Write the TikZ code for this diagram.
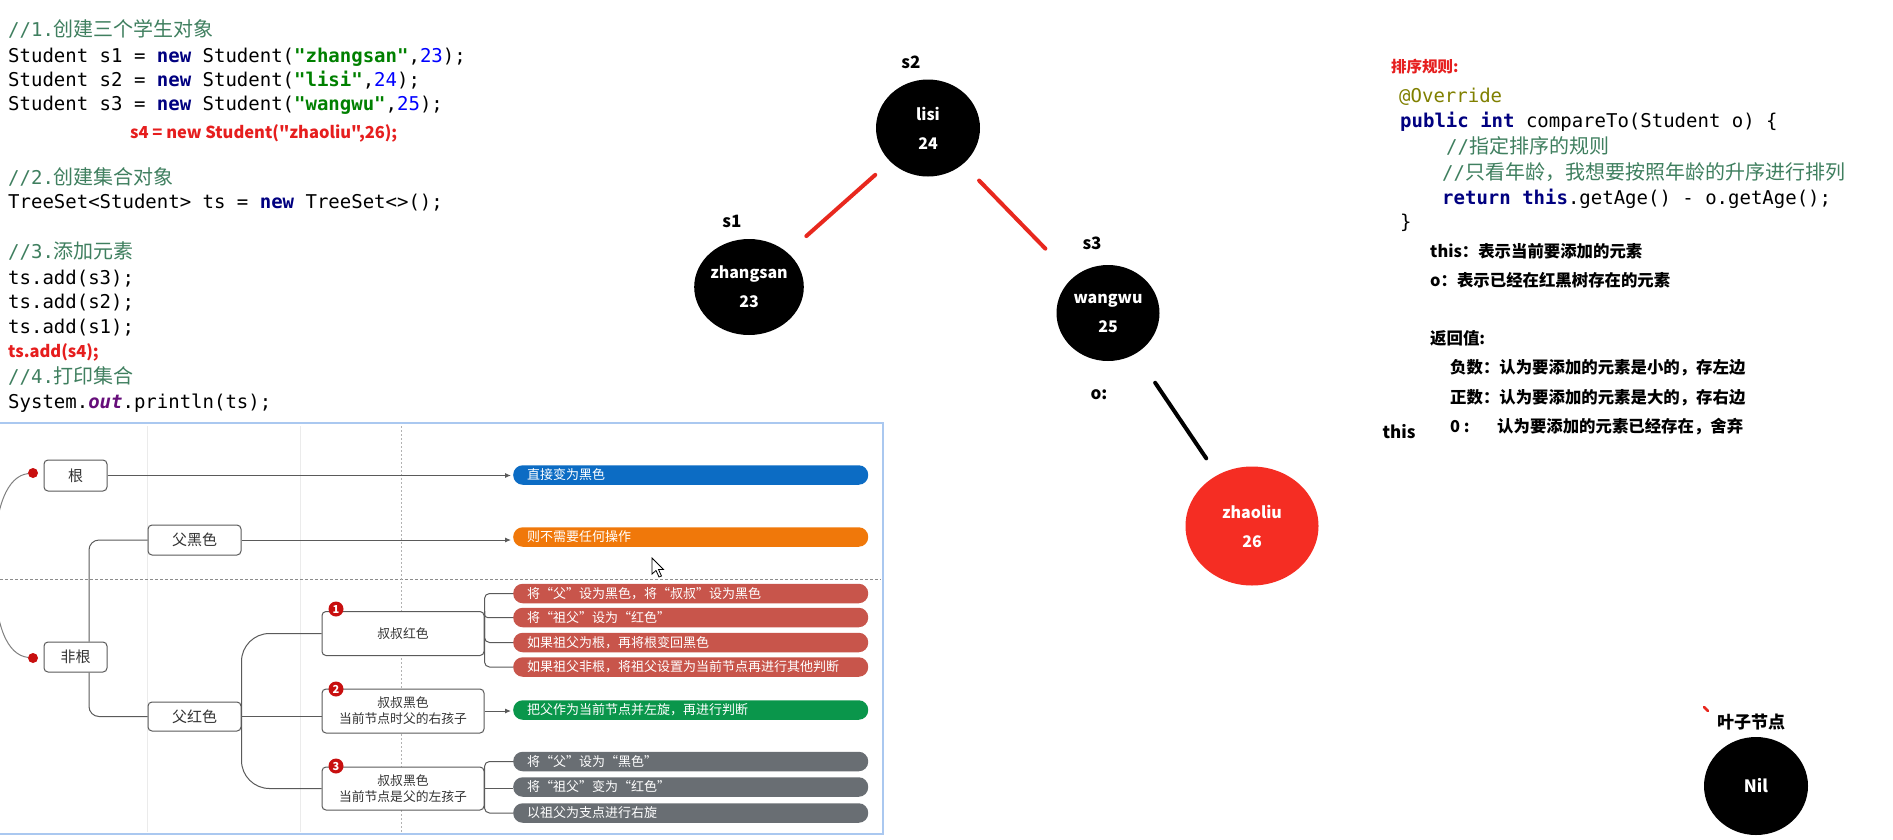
\documentclass[tikz,border=0pt]{standalone}
\usepackage{fontspec}
\setmainfont{Noto Sans CJK SC}
\newfontfamily\cjk{Noto Sans CJK SC}
\setmonofont{DejaVu Sans Mono}
\usetikzlibrary{shapes.geometric,arrows.meta}
\definecolor{cmt}{RGB}{63,127,95}
\definecolor{kwc}{RGB}{0,0,128}
\definecolor{strc}{RGB}{0,128,0}
\definecolor{numc}{RGB}{0,0,255}
\definecolor{outc}{RGB}{102,14,122}
\definecolor{annc}{RGB}{128,128,0}
\definecolor{redtxt}{RGB}{230,30,30}
\definecolor{treered}{RGB}{232,40,30}
\definecolor{zred}{RGB}{245,45,35}
\definecolor{blueb}{RGB}{12,108,196}
\definecolor{orangeb}{RGB}{240,120,10}
\definecolor{redb}{RGB}{200,85,75}
\definecolor{greenb}{RGB}{10,150,75}
\definecolor{grayb}{RGB}{105,110,115}
\definecolor{panelc}{RGB}{170,200,240}
\definecolor{linec}{RGB}{90,90,90}
\definecolor{dotred}{RGB}{200,15,15}
\newcommand\codefont{\ttfamily\fontsize{19}{19}\selectfont}
\newcommand\cjkc{\cjk\fontsize{20}{20}\selectfont}
\newcommand\ckw[1]{\textcolor{kwc}{\bfseries #1}}
\newcommand\cstr[1]{\textcolor{strc}{\bfseries #1}}
\newcommand\cnum[1]{\textcolor{numc}{#1}}
\begin{document}
\begin{tikzpicture}[x=1pt,y=-1pt,
  code/.style={anchor=base west, inner sep=0pt, font=\codefont},
  redcode/.style={anchor=base west, inner sep=0pt, text=redtxt, font=\cjk\bfseries\fontsize{16.5}{16.5}\selectfont},
  note/.style={anchor=base west, inner sep=0pt, font=\bfseries\fontsize{16.4}{16.4}\selectfont},
  tlabel/.style={inner sep=0pt, font=\bfseries\fontsize{17}{17}\selectfont},
  tnode/.style={ellipse, fill=black, text=white, inner sep=0pt, align=center, font=\bfseries\fontsize{16}{29}\selectfont},
  redline/.style={treered, line width=4pt, line cap=round},
  blackline/.style={black, line width=4pt, line cap=round},
  mmbox/.style={draw=linec, rounded corners=4pt, fill=white, line width=1pt, align=center, inner sep=0pt, text=black!80},
  mmbar/.style={rounded corners=9.5pt, text=white, font=\fontsize{13}{13}\selectfont, minimum height=19.5pt, text width=327pt, inner xsep=14pt, inner ysep=0pt, anchor=west, align=left},
  conn/.style={linec, line width=1pt},
  arr/.style={linec, line width=1pt, -{Latex[length=6pt,width=5pt]}, shorten >=2pt},
  numdot/.style={circle, fill=dotred, text=white, minimum size=15pt, inner sep=0pt, font=\bfseries\fontsize{11}{11}\selectfont},
  reddot/.style={circle, fill=dotred, minimum size=10pt, inner sep=0pt}
]
\useasboundingbox (0,0) rectangle (1893,839);
\fill[white] (0,0) rectangle (1893,839);

% ---------------- left code ----------------
\node[code] (c1) at (8,36) {\textcolor{cmt}{//1.{\cjkc 创建三个学生对象}}};
\node[code] (c2) at (8,62) {Student s1 = \ckw{new} Student(\cstr{"zhangsan"},\cnum{23});};
\node[code] (c3) at (8,86) {Student s2 = \ckw{new} Student(\cstr{"lisi"},\cnum{24});};
\node[code] (c4) at (8,110) {Student s3 = \ckw{new} Student(\cstr{"wangwu"},\cnum{25});};
\node[redcode] (c5) at (130,138) {s4 = new Student("zhaoliu",26);};
\node[code] (c6) at (8,184) {\textcolor{cmt}{//2.{\cjkc 创建集合对象}}};
\node[code] (c7) at (8,208) {TreeSet<Student> ts = \ckw{new} TreeSet<>();};
\node[code] (c8) at (8,258) {\textcolor{cmt}{//3.{\cjkc 添加元素}}};
\node[code] (c9) at (8,284) {ts.add(s3);};
\node[code] (c10) at (8,308) {ts.add(s2);};
\node[code] (c11) at (8,333) {ts.add(s1);};
\node[redcode] (c12) at (8,357) {ts.add(s4);};
\node[code] (c13) at (8,383) {\textcolor{cmt}{//4.{\cjkc 打印集合}}};
\node[code] (c14) at (8,408) {System.\textcolor{outc}{\bfseries\itshape out}.println(ts);};

% ---------------- tree ----------------
\node[tlabel] (ls2) at (911,62) {s2};
\node[tlabel] (ls1) at (732,221) {s1};
\node[tlabel] (ls3) at (1092,243) {s3};
\node[tlabel] (lo) at (1099,395) {o:};
\node[tlabel] (lthis) at (1399,432) {this};
\node[tnode, minimum width=104pt, minimum height=97pt] (lisi) at (928,128) {lisi\\24};
\node[tnode, minimum width=104pt, minimum height=96pt] (zhang) at (749,287) {zhangsan\\23};
\node[tnode, minimum width=103pt, minimum height=96pt] (wang) at (1108,313) {wangwu\\25};
\node[tnode, fill=zred, minimum width=133pt, minimum height=119pt] (zhao) at (1252,526) {zhaoliu\\26};
\draw[redline, shorten <=20pt, shorten >=25pt] (lisi) -- (zhang);
\draw[redline, shorten <=23pt, shorten >=40pt] (lisi) -- (wang);
\draw[blackline, shorten <=35pt, shorten >=20pt] (wang) -- (zhao);

% leaf
\node[tlabel] (leaf) at (1751,722) {叶子节点};
\node[tnode, minimum width=104pt, minimum height=98pt, font=\bfseries\fontsize{17}{17}\selectfont] (nil) at (1756,786) {Nil};
\draw[treered, line width=2.5pt, line cap=round] (1704,707) -- (1708,711);

% ---------------- right code ----------------
\node[redcode, font=\cjk\bfseries\fontsize{15.5}{15.5}\selectfont] (r0) at (1391,72) {排序规则:};
\node[code] (r1) at (1399,102) {\textcolor{annc}{@Override}};
\node[code] (r2) at (1400,127) {\ckw{public} \ckw{int} compareTo(Student o) \{};
\node[code] (r3) at (1446,153) {\textcolor{cmt}{//{\cjkc 指定排序的规则}}};
\node[code] (r4) at (1442,179) {\textcolor{cmt}{//{\cjkc 只看年龄，我想要按照年龄的升序进行排列}}};
\node[code] (r5) at (1442,204) {\ckw{return} \ckw{this}.getAge() - o.getAge();};
\node[code] (r6) at (1400,228) {\}};
\node[note] (r7) at (1430,257) {this：表示当前要添加的元素};
\node[note] (r8) at (1430,286) {o：表示已经在红黑树存在的元素};
\node[note] (r9) at (1430,344) {返回值:};
\node[note] (r10) at (1450,373) {负数：认为要添加的元素是小的，存左边};
\node[note] (r11) at (1450,403) {正数：认为要添加的元素是大的，存右边};
\node[note] (r12) at (1450,432) {0 :};
\node[note] (r13) at (1497,432) {认为要添加的元素已经存在，舍弃};

% ---------------- mind map ----------------
\draw[black!8, line width=1pt] (147,426) -- (147,832);
\draw[black!8, line width=1pt] (300,426) -- (300,832);
\draw[black!45, dashed, dash pattern=on 3pt off 2pt, line width=0.8pt] (0,579) -- (881,579);
\draw[black!30, dash pattern=on 2pt off 2pt, line width=1pt] (401,426) -- (401,832);
\draw[panelc, line width=2pt] (-3,423) rectangle (883,834);

\node[mmbox, minimum width=63pt, minimum height=31pt, font=\fontsize{15}{15}\selectfont] (gen) at (75.5,475.5) {根};
\node[mmbox, minimum width=63pt, minimum height=30pt, font=\fontsize{15}{15}\selectfont] (feigen) at (75.5,657) {非根};
\node[mmbox, minimum width=93pt, minimum height=30pt, font=\fontsize{15}{15}\selectfont] (fuhei) at (194.5,540) {父黑色};
\node[mmbox, minimum width=93pt, minimum height=29pt, font=\fontsize{15}{15}\selectfont] (fuhong) at (194.5,716.5) {父红色};
\node[mmbox, minimum width=162pt, minimum height=44pt, font=\fontsize{12.8}{16}\selectfont] (case1) at (403,633.5) {叔叔红色};
\node[mmbox, minimum width=162pt, minimum height=44pt, font=\fontsize{12.8}{16}\selectfont] (case2) at (403,711) {叔叔黑色\\当前节点时父的右孩子};
\node[mmbox, minimum width=162pt, minimum height=43pt, font=\fontsize{12.8}{16}\selectfont] (case3) at (403,788.5) {叔叔黑色\\当前节点是父的左孩子};

\node[reddot] (d1) at (33,473) {};
\node[reddot] (d2) at (33,658) {};
\node[numdot] (n1) at (336,609) {1};
\node[numdot] (n2) at (336,689) {2};
\node[numdot] (n3) at (336,766) {3};

\node[mmbar, fill=blueb] (b0) at (513,475) {直接变为黑色};
\node[mmbar, fill=orangeb] (b1) at (513,537) {则不需要任何操作};
\node[mmbar, fill=redb] (rb1) at (513,593.5) {将“父”设为黑色，将“叔叔”设为黑色};
\node[mmbar, fill=redb] (rb2) at (513,617.5) {将“祖父”设为“红色”};
\node[mmbar, fill=redb] (rb3) at (513,642.5) {如果祖父为根，再将根变回黑色};
\node[mmbar, fill=redb] (rb4) at (513,667) {如果祖父非根，将祖父设置为当前节点再进行其他判断};
\node[mmbar, fill=greenb] (gb) at (513,710) {把父作为当前节点并左旋，再进行判断};
\node[mmbar, fill=grayb] (kb1) at (513,761.5) {将“父”设为“黑色”};
\node[mmbar, fill=grayb] (kb2) at (513,787) {将“祖父”变为“红色”};
\node[mmbar, fill=grayb] (kb3) at (513,813) {以祖父为支点进行右旋};

\draw[black!50, line width=1pt] (d1) .. controls (8,476) and (-6,505) .. (-6,565) .. controls (-6,628) and (8,655) .. (d2);
\draw[conn, rounded corners=10pt] ([xshift=13.5pt]feigen.north) |- (fuhei.west);
\draw[conn, rounded corners=10pt] ([xshift=13.5pt]feigen.south) |- (fuhong.west);
\draw[arr] (gen.east) -- (gen.east -| b0.west);
\draw[arr] (fuhei.east) -- (fuhei.east -| b1.west);
\draw[conn, rounded corners=28pt] (fuhong.east) |- (case1.west);
\draw[conn] (fuhong.east) -- (fuhong.east -| case2.west);
\draw[conn, rounded corners=28pt] (fuhong.east) |- (case3.west);
\draw[conn, rounded corners=5pt] (case1.north east) |- (rb1.west);
\draw[conn, rounded corners=3pt] (case1.north east) |- (rb2.west);
\draw[conn, rounded corners=5pt] (case1.north east) |- (rb3.west);
\draw[conn, rounded corners=5pt] (case1.north east) |- (rb4.west);
\draw[arr] (case2.east) -- (case2.east -| gb.west);
\draw[conn, rounded corners=5pt] (case3.east) |- (kb1.west);
\draw[conn] (case3.east) -- (case3.east -| kb2.west);
\draw[conn, rounded corners=5pt] (case3.east) |- (kb3.west);

% cursor
\draw[fill=white, line width=0.8pt, shift={(652,558)}] (0,0) -- (0,16) -- (4,12.5) -- (7,19) -- (9.5,18) -- (6.5,11.5) -- (11.5,11.5) -- cycle;
\end{tikzpicture}
\end{document}
